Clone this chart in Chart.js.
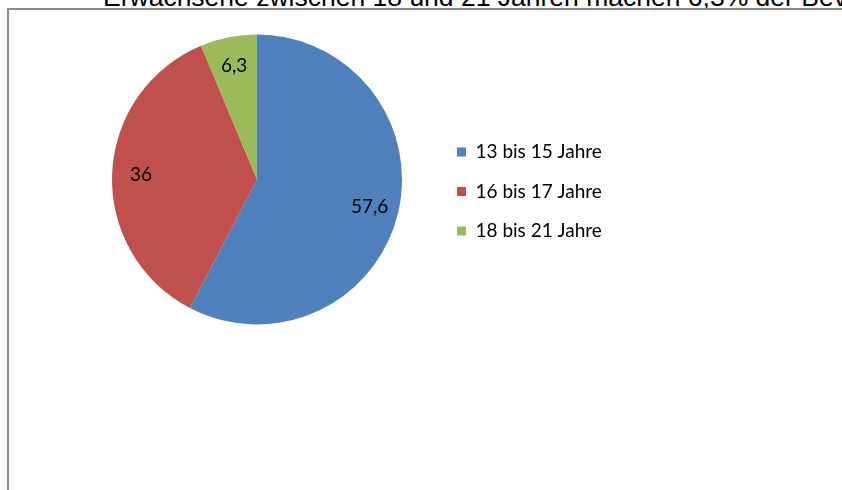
<!DOCTYPE html>
<html lang="de">
<head>
<meta charset="utf-8">
<title>Altersverteilung</title>
<script src="https://cdn.jsdelivr.net/npm/chart.js@4.4.1/dist/chart.umd.min.js"></script>
<style>
    html, body { margin: 0; padding: 0; width: 842px; height: 490px; overflow: hidden; background: #fff; }
    #caption {
        position: absolute; left: 103px; top: -16px;
        font: 26.5px/26px "Liberation Sans", Arial, sans-serif; color: #000;
        white-space: nowrap;
    }
    #frame {
        position: absolute; left: 7px; top: 8px; width: 1000px; height: 1000px;
        border: 2px solid #8a8a8a;
    }
    #chart { position: absolute; left: 0; top: 0; }
</style>
</head>
<body>
<div id="caption">Erwachsene zwischen 18 und 21 Jahren machen 6,3% der Bevölkerung aus</div>
<div id="frame"></div>
<canvas id="chart" width="842" height="490"></canvas>
<script>
// chart data
const categories = ['13 bis 15 Jahre', '16 bis 17 Jahre', '18 bis 21 Jahre'];
const shares = [57.6, 36, 6.3];
const sliceColors = ['#4f81bd', '#c0504d', '#9bbb59'];

document.addEventListener("DOMContentLoaded", () => {
    Chart.defaults.font.family = 'Lato, "Open Sans", sans-serif';
    Chart.defaults.color = '#000';

    const legendLeft = 436.5;   // where the legend block should start

    // Excel style value labels inside the slices (decimal comma)
    const sliceLabels = {
        id: 'sliceLabels',
        afterDatasetsDraw(chart) {
            const ctx = chart.ctx;
            const meta = chart.getDatasetMeta(0);
            ctx.save();
            ctx.font = '19px Lato';
            ctx.fillStyle = '#000';
            ctx.textAlign = 'center';
            ctx.textBaseline = 'middle';
            meta.data.forEach((arc, i) => {
                const { x, y, startAngle, endAngle, outerRadius } = arc.getProps(['x', 'y', 'startAngle', 'endAngle', 'outerRadius'], true);
                const mid = (startAngle + endAngle) / 2;
                const r = outerRadius * 0.8;
                const text = String(shares[i]).replace('.', ',');
                ctx.fillText(text, x + Math.cos(mid) * r, y + Math.sin(mid) * r);
            });
            ctx.restore();
        }
    };

    const chart = new Chart(document.getElementById('chart'), {
        type: 'pie',
        data: {
            labels: categories,
            datasets: [{
                data: shares,
                backgroundColor: sliceColors,
                borderWidth: 0,
                radius: 145,
                clip: false
            }]
        },
        options: {
            responsive: false,
            animation: false,
            events: [],
            layout: {
                padding: { left: 77.5, right: 200, top: 35, bottom: 166 }
            },
            plugins: {
                tooltip: { enabled: false },
                legend: {
                    position: 'right',
                    align: 'start',
                    title: {
                        display: true,
                        text: '',
                        font: { size: 10 },
                        padding: { top: 75, bottom: 0 }
                    },
                    labels: {
                        boxWidth: 9,
                        boxHeight: 9,
                        padding: 20.5,
                        color: '#000',
                        font: { size: 19 }
                    }
                }
            }
        },
        plugins: [sliceLabels]
    });

    // push the legend so it starts at legendLeft, keeping the pie centred at x=257
    chart.options.layout.padding.right = 842 - legendLeft - chart.legend.width;
    chart.update();
});
</script>
</body>
</html>
